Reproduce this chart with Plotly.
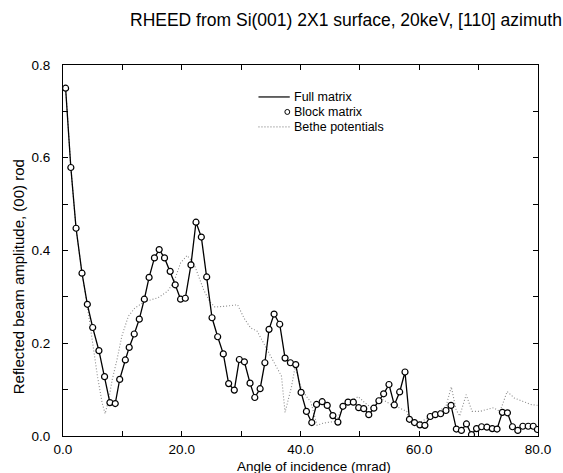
import plotly.graph_objects as go

# Incidence angles (mrad) of the computed points
angle = [0.44, 1.32, 2.2, 3.2, 4.1, 5.0, 6.05, 7.0, 7.9, 8.8,
         9.55, 10.5, 11.15, 12.0, 12.85, 13.7, 14.5, 15.4, 16.2, 17.1,
         18.05, 18.9, 19.8, 20.6, 21.55, 22.4, 23.3, 24.2, 25.1, 26.05,
         27.0, 27.9, 28.85, 29.7, 30.55, 31.5, 32.3, 33.2, 34.0, 34.7,
         35.55, 36.5, 37.4, 38.3, 39.2, 40.1, 41.0, 41.9, 42.7, 43.65,
         44.5, 45.45, 46.3, 47.15, 48.0, 48.9, 49.8, 50.65, 51.5, 52.35,
         53.2, 54.0, 54.9, 55.8, 56.7, 57.6, 58.35, 59.2, 60.1, 60.95,
         61.85, 62.7, 63.6, 64.5, 65.35, 66.25, 67.1, 67.95, 68.8, 69.65,
         70.5, 71.4, 72.3, 73.1, 74.0, 74.85, 75.7, 76.6, 77.45, 78.35,
         79.2, 79.9]

# Reflected (00) beam amplitude: full-matrix and block-matrix results coincide
amplitude = [0.750, 0.579, 0.448, 0.351, 0.284, 0.234, 0.184, 0.128, 0.072, 0.070,
             0.122, 0.164, 0.191, 0.220, 0.252, 0.295, 0.342, 0.384, 0.402, 0.384,
             0.355, 0.326, 0.295, 0.297, 0.369, 0.461, 0.429, 0.343, 0.255, 0.214,
             0.177, 0.113, 0.099, 0.165, 0.160, 0.114, 0.083, 0.102, 0.158, 0.230,
             0.263, 0.241, 0.168, 0.158, 0.154, 0.094, 0.053, 0.029, 0.068, 0.074,
             0.066, 0.044, 0.030, 0.064, 0.073, 0.073, 0.061, 0.059, 0.046, 0.060,
             0.076, 0.091, 0.111, 0.067, 0.095, 0.138, 0.036, 0.029, 0.024, 0.023,
             0.042, 0.046, 0.048, 0.055, 0.066, 0.015, 0.012, 0.026, 0.003, 0.016,
             0.020, 0.019, 0.016, 0.015, 0.051, 0.050, 0.020, 0.012, 0.021, 0.021,
             0.021, 0.014]

# Bethe-potential approximation
bethe_angle = [0.44, 1.32, 2.2, 3.2, 4.1, 5.0, 5.8, 6.6, 7.1, 7.7,
               8.3, 9.1, 9.9, 11.0, 12.1, 13.8, 16.0, 17.6, 18.7, 19.8,
               20.9, 22.0, 22.8, 23.7, 24.7, 25.6, 27.5, 29.4, 30.5, 31.6,
               32.7, 33.8, 34.9, 36.0, 36.8, 37.4, 38.5, 39.1, 40.2, 41.3,
               41.7, 42.8, 43.9, 46.1, 47.2, 48.6, 49.7, 50.8, 51.9, 53.0,
               53.8, 55.5, 56.6, 57.9, 58.2, 59.9, 61.5, 63.2, 64.5, 65.4,
               66.2, 66.8, 67.9, 68.9, 70.2, 72.5, 73.6, 74.8, 76.0, 77.4,
               78.8, 79.9]
bethe_amp = [0.750, 0.579, 0.448, 0.351, 0.280, 0.200, 0.129, 0.071, 0.048, 0.079,
             0.122, 0.165, 0.215, 0.258, 0.276, 0.290, 0.298, 0.312, 0.333, 0.373,
             0.389, 0.373, 0.344, 0.315, 0.290, 0.278, 0.280, 0.283, 0.254, 0.233,
             0.226, 0.200, 0.175, 0.150, 0.129, 0.051, 0.107, 0.150, 0.100, 0.080,
             0.075, 0.023, 0.028, 0.032, 0.068, 0.075, 0.085, 0.072, 0.061, 0.072,
             0.079, 0.066, 0.061, 0.053, 0.039, 0.028, 0.039, 0.053, 0.064, 0.106,
             0.057, 0.043, 0.089, 0.053, 0.053, 0.061, 0.053, 0.096, 0.082, 0.075,
             0.068, 0.066]

x_ticks = [0, 10, 20, 30, 40, 50, 60, 70, 80]
x_labels = ["0.0", "", "20.0", "", "40.0", "", "60.0", "", "80.0"]
y_ticks = [0, 0.1, 0.2, 0.3, 0.4, 0.5, 0.6, 0.7, 0.8]
y_labels = ["0.0", "", "0.2", "", "0.4", "", "0.6", "", "0.8"]

FONT = "Liberation Sans, Arial, Helvetica, sans-serif"
INK = "#000000"
DOT = "#8a8a8a"
DOT_DASH = "1px,2px"

fig = go.Figure()
fig.add_trace(go.Scatter(x=bethe_angle, y=bethe_amp, mode="lines",
                         name="Bethe potentials",
                         line=dict(color=DOT, width=1.1, dash=DOT_DASH)))
fig.add_trace(go.Scatter(x=angle, y=amplitude, mode="lines", name="Full matrix",
                         line=dict(color=INK, width=1.3)))
fig.add_trace(go.Scatter(x=angle, y=amplitude, mode="markers", name="Block matrix",
                         marker=dict(symbol="circle", size=6, color="white",
                                     line=dict(color=INK, width=1.2))))

axis_common = dict(showline=True, linecolor=INK, linewidth=1, mirror="allticks",
                   ticks="inside", ticklen=5, tickwidth=1, tickcolor=INK,
                   showgrid=False, zeroline=False,
                   tickfont=dict(family=FONT, size=13.5, color=INK))

fig.update_layout(
    width=563, height=473,
    margin=dict(l=63, r=14, t=65, b=36.5),
    paper_bgcolor="white", plot_bgcolor="white",
    showlegend=False,
    xaxis=dict(range=[0, 80], tickmode="array", tickvals=x_ticks,
               ticktext=x_labels, ticklabelstandoff=1, **axis_common),
    yaxis=dict(range=[0, 0.8], tickmode="array", tickvals=y_ticks,
               ticktext=y_labels, ticklabelstandoff=9, **axis_common),
)

# Titles
fig.add_annotation(text="RHEED from Si(001) 2X1 surface, 20keV, [110] azimuth",
                   xref="paper", yref="paper", x=0.595, y=1.12,
                   xanchor="center", yanchor="middle", showarrow=False,
                   font=dict(family=FONT, size=17.5, color=INK))
fig.add_annotation(text="Angle of incidence (mrad)", xref="paper", yref="paper",
                   x=0.528, y=-0.081, xanchor="center", yanchor="middle",
                   showarrow=False, font=dict(family=FONT, size=13.5, color=INK))
fig.add_annotation(text="Reflected beam amplitude, (00) rod", xref="paper",
                   yref="paper", x=-0.093, y=0.43, xanchor="center",
                   yanchor="middle", textangle=-90, showarrow=False,
                   font=dict(family=FONT, size=15, color=INK))

# Key, drawn in pixel offsets from the plot's top-left corner
def px(xp):
    return (xp - 63) / 486

def py(yp):
    return (436.5 - yp) / 371.5

legend_rows = [("Full matrix", 97), ("Block matrix", 112), ("Bethe potentials", 127)]
for label, yp in legend_rows:
    fig.add_annotation(text=label, xref="paper", yref="paper", x=px(298), y=py(yp),
                       xanchor="left", yanchor="middle", showarrow=False,
                       borderpad=0, font=dict(family=FONT, size=12.5, color=INK))
fig.add_shape(type="line", xref="paper", yref="paper", x0=px(263), x1=px(295),
              y0=py(97), y1=py(97), line=dict(color=INK, width=1.2))
fig.add_shape(type="line", xref="paper", yref="paper", x0=px(263), x1=px(295),
              y0=py(127), y1=py(127), line=dict(color=DOT, width=1.1, dash=DOT_DASH))
fig.add_shape(type="circle", xref="paper", yref="paper", x0=px(290), x1=px(295),
              y0=py(109.5), y1=py(114.5), line=dict(color=INK, width=1), fillcolor="white")

fig.write_html("out.html")
